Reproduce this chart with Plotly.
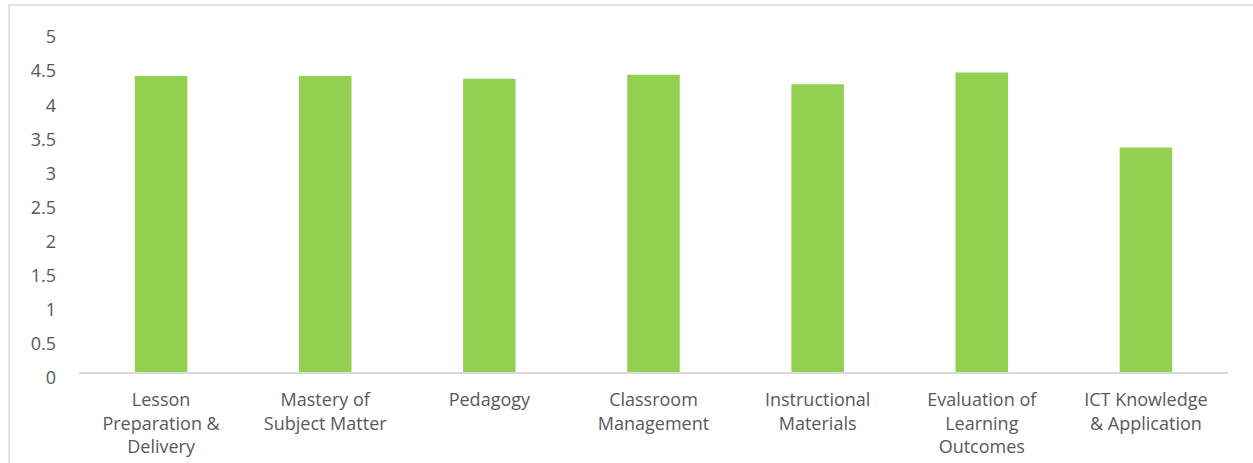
import plotly.graph_objects as go

categories = [
    "Lesson<br>Preparation &<br>Delivery",
    "Mastery of<br>Subject Matter",
    "Pedagogy",
    "Classroom<br>Management",
    "Instructional<br>Materials",
    "Evaluation of<br>Learning<br>Outcomes",
    "ICT Knowledge<br>& Application",
]
values = [4.34, 4.34, 4.30, 4.36, 4.22, 4.39, 3.29]
y_ticks = [0, 0.5, 1, 1.5, 2, 2.5, 3, 3.5, 4, 4.5, 5]
y_tick_labels = ["0", "0.5", "1", "1.5", "2", "2.5", "3", "3.5", "4", "4.5", "5"]

W, H = 1253, 463
L, R, T, B = 79, 25, 31, 91
pw, ph = W - L - R, H - T - B
TEXT = "#595959"

def px_x(p):
    return (p - L) / pw

def px_y(p):
    return (H - B - p) / ph

fig = go.Figure(
    go.Bar(
        x=categories,
        y=values,
        marker=dict(color="#92D050", line=dict(width=0)),
        width=0.32,
    )
)

fig.update_layout(
    width=W,
    height=H,
    margin=dict(l=L, r=R, t=T, b=B, autoexpand=False),
    paper_bgcolor="white",
    plot_bgcolor="white",
    font=dict(family="Open Sans", size=18, color=TEXT),
    showlegend=False,
    shapes=[
        dict(
            type="rect",
            xref="paper",
            yref="paper",
            x0=px_x(9),
            x1=px_x(1262),
            y0=px_y(480),
            y1=px_y(5),
            line=dict(color="#D9D9D9", width=1.5),
            fillcolor="rgba(0,0,0,0)",
            layer="below",
        )
    ],
)

fig.update_xaxes(
    showline=True,
    linecolor="#D9D9D9",
    linewidth=1.5,
    showgrid=False,
    ticks="",
    tickangle=0,
    automargin=False,
    tickfont=dict(family="Open Sans", size=18, color=TEXT),
    ticklabelstandoff=11,
)
fig.update_yaxes(
    range=[0, 5],
    tickvals=y_ticks,
    ticktext=y_tick_labels,
    showline=False,
    showgrid=False,
    zeroline=False,
    ticks="",
    automargin=False,
    tickfont=dict(size=18, color=TEXT),
    ticklabelstandoff=22,
    ticklabelshift=6,
)

fig.write_html("out.html")
